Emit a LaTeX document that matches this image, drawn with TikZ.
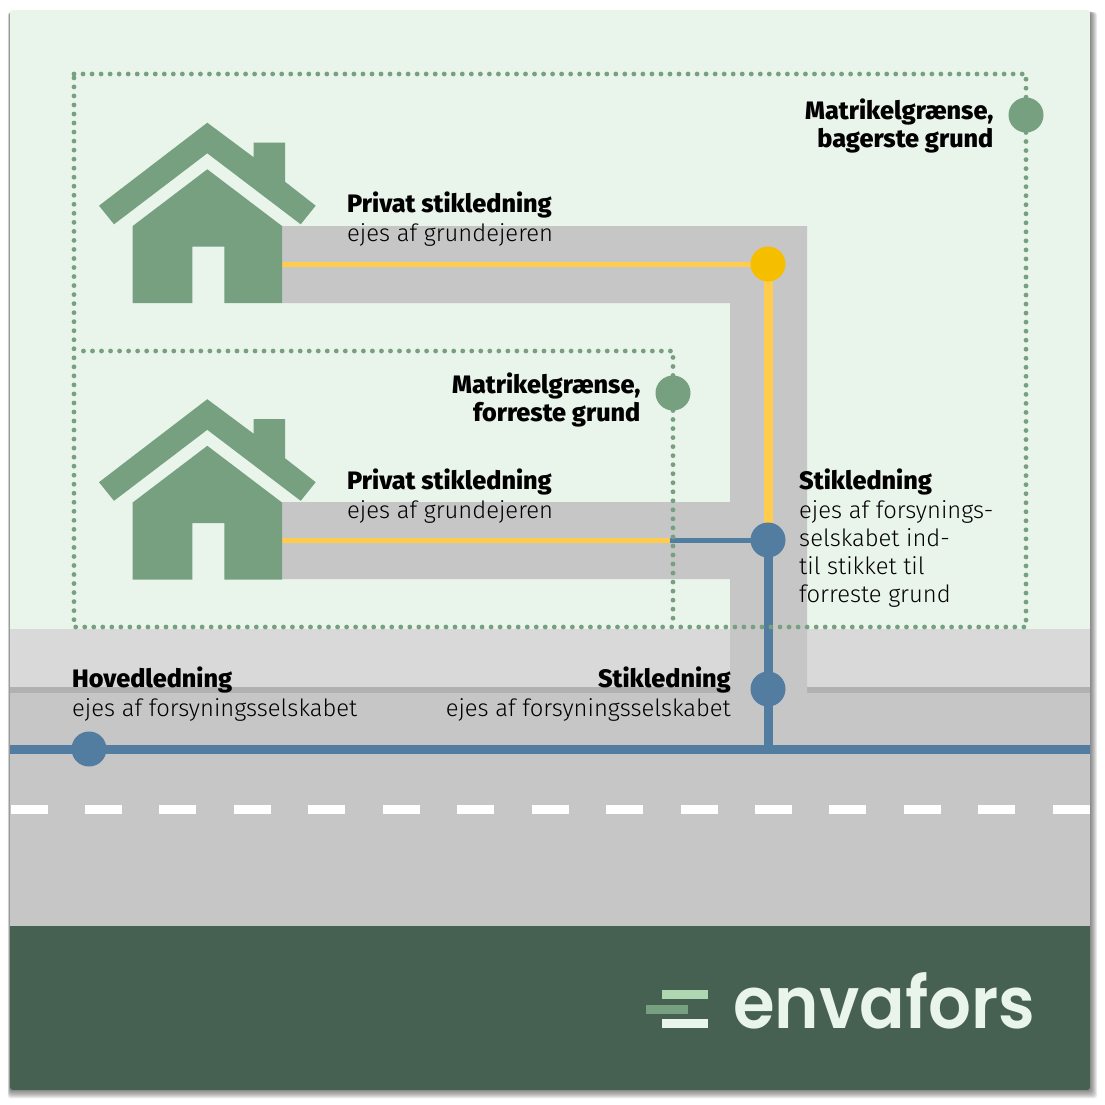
\documentclass[tikz,border=0pt]{standalone}
\usepackage{fontspec}
\setmainfont{Fira Sans}[UprightFont=* Light, BoldFont=* ExtraBold, BoldFeatures={Scale=1.06}]
\newfontfamily\logofont{Poppins SemiBold}
\usepackage{tikz}
\usetikzlibrary{positioning,calc}

\definecolor{grass}{HTML}{E9F4EB}
\definecolor{leaf}{HTML}{76A07F}
\definecolor{mint}{HTML}{AED6B1}
\definecolor{forest}{HTML}{466152}
\definecolor{walk}{HTML}{D9D9D9}
\definecolor{kerb}{HTML}{B1B1B1}
\definecolor{road}{HTML}{C6C6C6}
\definecolor{pipeblue}{HTML}{527CA0}
\definecolor{pipeyellow}{HTML}{FFCC4D}
\definecolor{jointyellow}{HTML}{F5BF00}

\pgfdeclarelayer{pipes}
\pgfsetlayers{pipes,main}

\begin{document}
\begin{tikzpicture}[
  x=1pt, y=-1pt,
  joint/.style = {circle, fill=#1, minimum size=35pt, inner sep=0pt, outer sep=0pt},
  joint/.default = pipeblue,
  lbl/.style   = {font=\fontsize{23.8}{28.25}\selectfont, align=left, inner sep=0pt,
                  anchor=north west, text=black},
  rlbl/.style  = {lbl, align=right, anchor=north east},
  thin pipe/.style  = {line width=5pt, #1},
  thick pipe/.style = {line width=9pt, #1},
  dots/.style  = {leaf, line width=4.8pt, line cap=round,
                  dash pattern=on 0pt off 9.03pt},
]
\useasboundingbox (0,0) rectangle (1105,1105);

%% ── JOINTS ──────────────────────────────────────────────────────────────
\node[joint=jointyellow] (back-joint)  at (768,264) {};
\node[joint]             (front-joint) at (768,540) {};
\node[joint]             (plot-joint)  at (768,689) {};
\node[joint]             (main-joint)  at (89,749)  {};

\coordinate (back-house)  at (282,264);
\coordinate (front-house) at (282,540);
\coordinate (meter)       at (670,540);
\coordinate (main-west)   at (10,749);
\coordinate (main-east)   at (1090,749);

\begin{pgfonlayer}{pipes}
%% ── PANEL AND SHADOW ────────────────────────────────────────────────────
\fill[white] (0,0) rectangle (1105,1105);
\foreach \s in {1,...,7}
  \fill[black, opacity=0.08, rounded corners=3pt]
    (10-0.3*\s,12) rectangle (1090+\s,1090+1.2*\s);

\begin{scope}
\clip[rounded corners=3pt] (10,10) rectangle (1090,1090);
\fill[grass]  (10,10)   rectangle (1090,629);
\fill[walk]   (10,629)  rectangle (1090,687);
\fill[kerb]   (10,687)  rectangle (1090,693);
\fill[road]   (10,693)  rectangle (1090,926);
\fill[forest] (10,926)  rectangle (1090,1090);

%% road markings
\foreach \i in {0,...,14}
  \fill[white] ({10.5+74.45*\i},805) rectangle ++(37,9);
\end{scope}

%% ── SERVICE TRENCHES ────────────────────────────────────────────────────
\fill[road] (282,226) -- (807,226) -- (807,693) -- (730,693) -- (730,579)
  -- (282,579) -- (282,502) -- (730,502) -- (730,303) -- (282,303) -- cycle;

%% ── PIPES ───────────────────────────────────────────────────────────────
\draw[thin pipe=pipeyellow] (back-house) -- (back-joint.center);
\draw[thick pipe=pipeyellow] (back-joint.center) -- (front-joint.center);
\draw[thin pipe=pipeyellow] (front-house) -- (meter);
\draw[thin pipe=pipeblue] (meter) -- (front-joint.center);
\draw[thick pipe=pipeblue] (front-joint.center) -- (plot-joint.center);
\draw[thick pipe=pipeblue] (plot-joint.center) -- (plot-joint |- main-west);
\draw[thick pipe=pipeblue] (main-west) -- (main-joint.center) -- (main-east);
\end{pgfonlayer}

%% ── HOUSES ──────────────────────────────────────────────────────────────
\foreach \yy in {0,276.5} {
  \begin{scope}[yshift=-\yy pt]
    \fill[leaf] (207.3,122.7) -- (253.7,157.3) -- (253.7,142.7) -- (285,142.7)
      -- (285,181.7) -- (315.7,205.7) -- (300.7,224.3) -- (207.3,153.3)
      -- (114,224.3) -- (99,205.7) -- cycle;
    \fill[leaf] (207.3,169.3) -- (282,226) -- (282,303) -- (224.3,303)
      -- (224.3,246.7) -- (192.3,246.7) -- (192.3,303) -- (132.7,303)
      -- (132.7,226) -- cycle;
  \end{scope}
}

%% ── PLOT BOUNDARIES ─────────────────────────────────────────────────────
\node[joint=leaf] (back-mark)  at (1026,115) {};
\node[joint=leaf] (front-mark) at (673,393)  {};
\draw[dots] (74,74) -- (1026,74) -- (back-mark);
\draw[dots] (back-mark) -- (1026,627) -- (74,627) -- (74,74);
\draw[dots] (front-mark) -- (673,351) -- (83,351);
\draw[dots] (front-mark) -- (673,627);

%% ── LABELS ──────────────────────────────────────────────────────────────
\node[rlbl, left=15pt of back-mark, yshift=-11pt]  (back-lbl)  {\textbf{Matrikelgrænse,}\\\textbf{bagerste grund}};
\node[rlbl, left=15pt of front-mark, yshift=-7pt]  (front-lbl) {\textbf{Matrikelgrænse,}\\\textbf{forreste grund}};
\node[lbl] (back-priv)  at (347,192) {\textbf{Privat stikledning}\\ejes af grundejeren};
\node[lbl] (front-priv) at (347,469) {\textbf{Privat stikledning}\\ejes af grundejeren};
\node[lbl] (serv-lbl)   at (799,469) {\textbf{Stikledning}\\ejes af forsynings-\\selskabet ind-\\til stikket til\\forreste grund};
\node[lbl] (main-lbl)   at (72,667)  {\textbf{Hovedledning}\\ejes af forsyningsselskabet};
\node[rlbl] (plot-lbl)  at (731,667) {\textbf{Stikledning}\\ejes af forsyningsselskabet};

%% ── LOGO ────────────────────────────────────────────────────────────────
\fill[mint]  (662,990)  rectangle (708,999);
\fill[leaf]  (646,1005) rectangle (688,1014);
\fill[grass] (662,1019) rectangle (708,1028);
\node[inner sep=0pt, anchor=base west, text=grass, font=\logofont\fontsize{72}{72}\selectfont]
  (logo) at (733,1028) {\scalebox{0.935}[1]{envafors}};

\end{tikzpicture}
\end{document}
